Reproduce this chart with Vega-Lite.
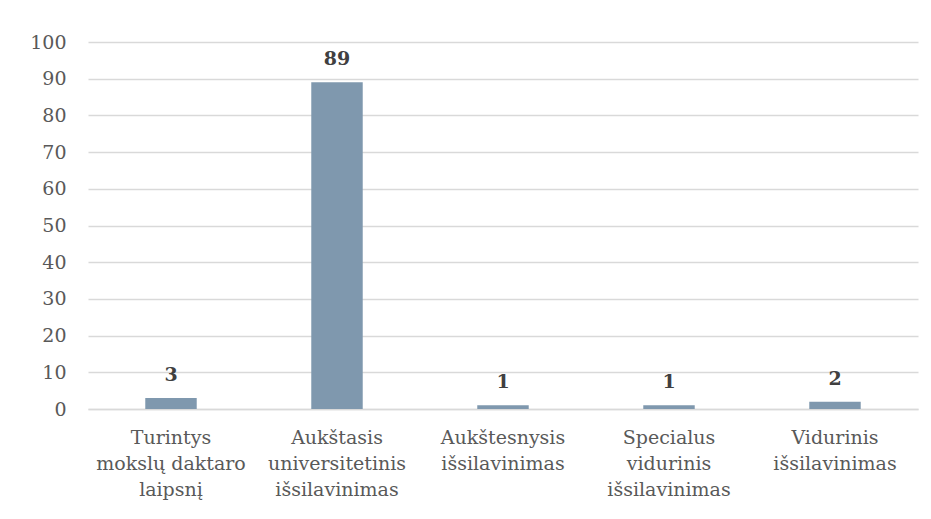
{
  "$schema": "https://vega.github.io/schema/vega-lite/v6.json",
  "width": 830,
  "height": 367,
  "autosize": {"type": "none"},
  "padding": {"left": 88, "top": 42, "right": 13, "bottom": 110},
  "background": "white",
  "config": {
    "view": {"stroke": null},
    "font": "DejaVu Serif"
  },
  "data": {
    "values": [
      {"kategorija": "Turintys|mokslų daktaro|laipsnį", "reiksme": 3},
      {"kategorija": "Aukštasis|universitetinis|išsilavinimas", "reiksme": 89},
      {"kategorija": "Aukštesnysis|išsilavinimas", "reiksme": 1},
      {"kategorija": "Specialus|vidurinis|išsilavinimas", "reiksme": 1},
      {"kategorija": "Vidurinis|išsilavinimas", "reiksme": 2}
    ]
  },
  "encoding": {
    "x": {
      "field": "kategorija",
      "type": "nominal",
      "sort": null,
      "scale": {"paddingInner": 0.69, "paddingOuter": 0.345},
      "axis": {
        "title": null,
        "labelAngle": 0,
        "labelExpr": "split(datum.label, '|')",
        "labelFont": "DejaVu Serif",
        "labelFontSize": 19,
        "labelColor": "#595959",
        "labelLineHeight": 26,
        "labelPadding": 19,
        "labelBaseline": "top",
        "ticks": false,
        "domainColor": "#d9d9d9",
        "domainWidth": 1.5,
        "labelLimit": 300
      }
    },
    "y": {
      "field": "reiksme",
      "type": "quantitative",
      "scale": {"domain": [0, 100]},
      "axis": {
        "title": null,
        "values": [0, 10, 20, 30, 40, 50, 60, 70, 80, 90, 100],
        "labelFont": "DejaVu Serif",
        "labelFontSize": 19,
        "labelColor": "#595959",
        "labelPadding": 22,
        "ticks": false,
        "domain": false,
        "gridColor": "#d9d9d9",
        "gridWidth": 1.5
      }
    }
  },
  "layer": [
    {"mark": {"type": "bar", "color": "#7f98ae"}},
    {
      "mark": {"type": "text", "dy": -13, "baseline": "bottom", "font": "DejaVu Serif", "fontWeight": "bold", "fontSize": 19, "color": "#404040"},
      "encoding": {"text": {"field": "reiksme", "type": "quantitative"}}
    }
  ]
}
